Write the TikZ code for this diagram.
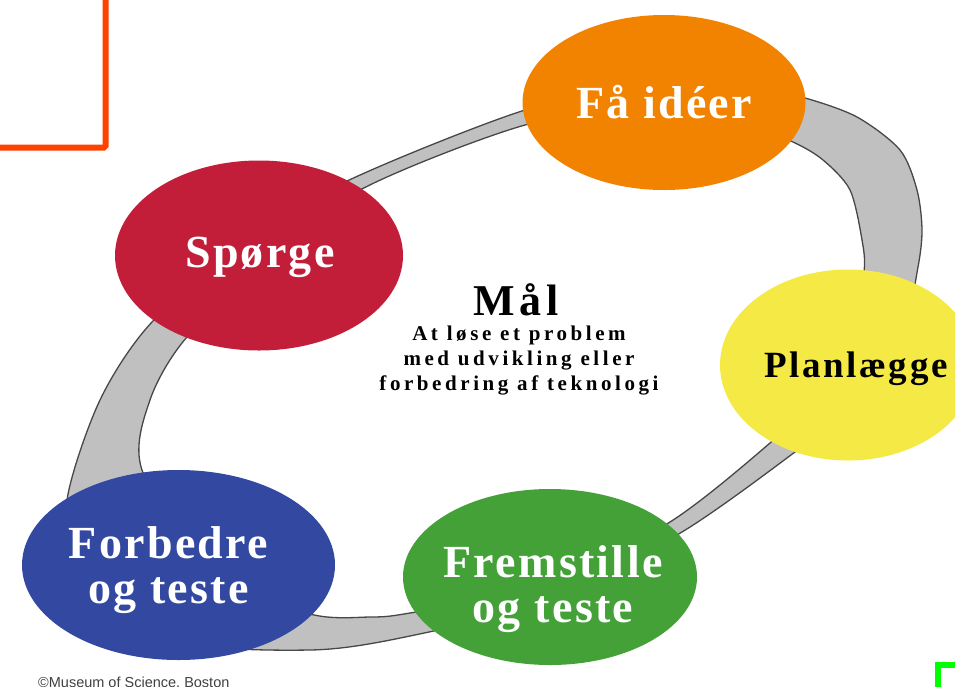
\documentclass[tikz,border=0pt]{standalone}
\usepackage{fontspec}
\setmainfont{Liberation Serif}
\setsansfont{Liberation Sans}
\usetikzlibrary{shapes.geometric,positioning}

\definecolor{ideaorange}{HTML}{F28300}
\definecolor{askred}{HTML}{C21E3A}
\definecolor{planyellow}{HTML}{F5EA45}
\definecolor{makegreen}{HTML}{43A138}
\definecolor{improveblue}{HTML}{3349A1}
\definecolor{ringgray}{HTML}{C0C0C0}
\definecolor{ringedge}{HTML}{474747}
\definecolor{framered}{HTML}{FF4200}
\definecolor{markgreen}{HTML}{00FF00}

\tikzset{
  phase/.style={ellipse,inner sep=0pt,draw=none},
  phasetext/.style={align=center,text=white,inner sep=0pt,
    font=\bfseries\fontsize{46}{45}\selectfont\addfontfeatures{LetterSpace=5}},
  ring/.style={fill=ringgray,draw=ringedge,line width=1.3pt,even odd rule},
  goaltitle/.style={inner sep=0pt,font=\bfseries\fontsize{44}{46}\selectfont\addfontfeatures{LetterSpace=10}},
  goaltext/.style={inner sep=0pt,align=center,
    font=\bfseries\fontsize{21}{25}\selectfont\addfontfeatures{LetterSpace=17}}
}

\begin{document}
\begin{tikzpicture}[x=1pt,y=-1pt]
      \useasboundingbox (0,0) rectangle (955,686);

      % ring
      \filldraw[ring]
      plot[smooth cycle] coordinates {(67,500) (100,400) (152,322) (245,245) (345,182) (525,110)
        (650,86) (760,90) (805,98) (857,117) (900,150) (917,190) (922,230) (918,267) (905,320)
        (860,400) (795,452) (682,532) (550,600) (410,636) (310,650) (170,640) (75,575)}
      plot[smooth cycle] coordinates {(142,470) (150,400) (187,337) (270,262) (360,190) (525,125)
        (640,112) (745,124) (793,142) (823,160) (850,190) (862,240) (864,272) (852,335) (815,398)
        (770,443) (670,522) (540,588) (410,613) (370,617) (310,614) (210,575)};

      % phases
      \node[phase,fill=ideaorange,minimum width=283pt,minimum height=175pt] (fa) at (664,102.5) {};
      \node[phase,fill=askred,minimum width=288pt,minimum height=190pt] (sporge) at (259,255.5) {};
      \node[phase,fill=planyellow,minimum width=256pt,minimum height=191pt] (plan) at (848,365) {};
      \node[phase,fill=makegreen,minimum width=294pt,minimum height=176pt] (fremstille) at (550,577) {};
      \node[phase,fill=improveblue,minimum width=313pt,minimum height=190pt] (forbedre) at (178.5,565) {};

      \node[phasetext] (fatxt) at (fa) {Få idéer};
      \node[phasetext] (sporgetxt) at ([shift={(1,1.5)}]sporge.center) {Spørge};
      \node[phasetext,text=black,font=\bfseries\fontsize{37}{40}\selectfont\addfontfeatures{LetterSpace=7}]
        (plantxt) at ([shift={(8,4)}]plan.center) {Planlægge};
      \node[phasetext] (fremstilletxt) at ([shift={(3,12)}]fremstille.center) {Fremstille\\og teste};
      \node[phasetext] (forbedretxt) at ([shift={(-10,5)}]forbedre.center) {Forbedre\\og teste};

      % goal
      \node[goaltitle,anchor=base] (maal) at (516,315) {Mål};
      \node[goaltext,anchor=base] (goal) at (519,390) {At løse et problem\\med udvikling eller\\forbedring af teknologi};

      % marks
      \draw[framered,line width=6pt,rounded corners=1.5pt] (-10,147.5) -- (105.5,147.5) -- (105.5,-10);
      \draw[markgreen,line width=6pt] (938,700) -- (938,665) -- (970,665);

      \node[inner sep=0pt,anchor=base west,text=black!75,font=\sffamily\fontsize{14.5}{16}\selectfont]
        (credit) at (38,687) {©Museum of Science, Boston};
\end{tikzpicture}
\end{document}
